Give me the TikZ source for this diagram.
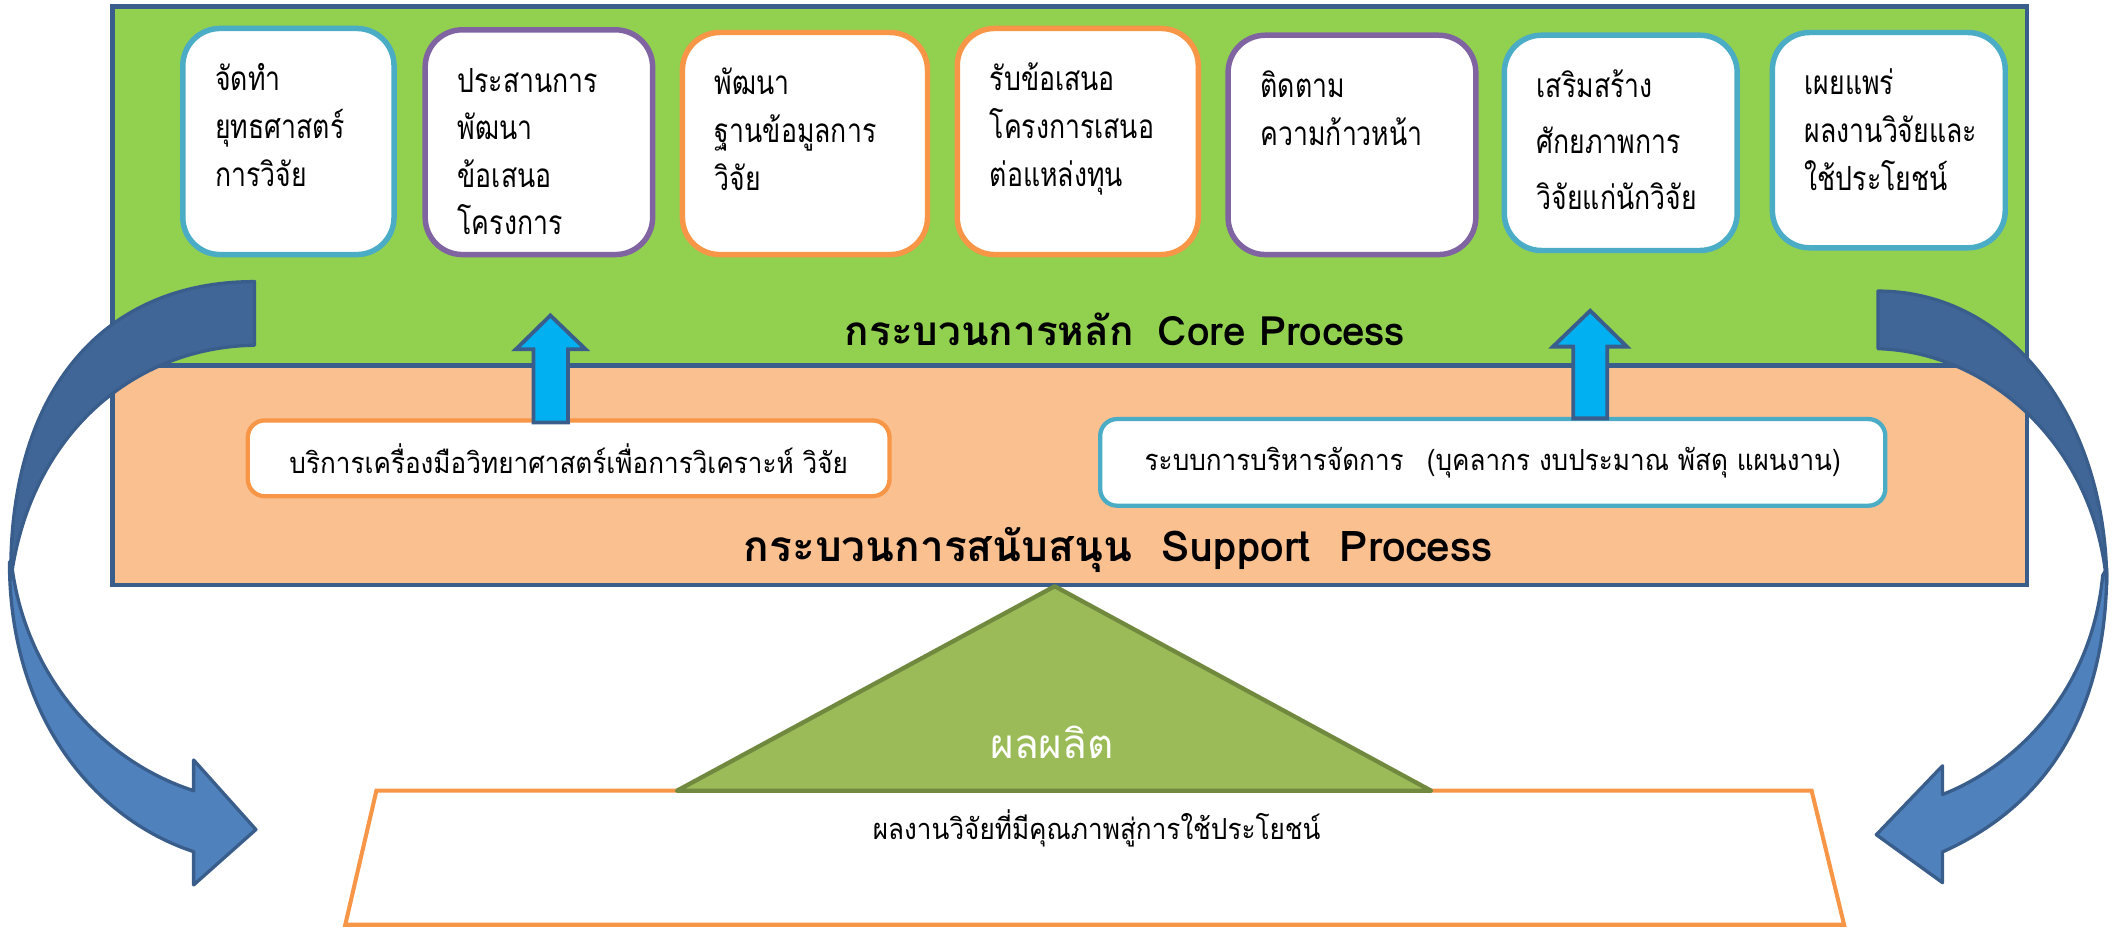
\documentclass[tikz,border=0pt]{standalone}
\usepackage{fontspec}
\setmainfont[Script=Thai]{Loma}
\newfontfamily\narrowthai[Script=Thai, FakeStretch=0.8]{Loma}
\newfontfamily\slimthai[Script=Thai, FakeStretch=0.9]{Loma}

\definecolor{coregreen}{HTML}{92D050}
\definecolor{supportorange}{HTML}{FAC090}
\definecolor{framedark}{HTML}{3A5E8C}
\definecolor{cyanline}{HTML}{4BACC6}
\definecolor{purpleline}{HTML}{8064A2}
\definecolor{orangeline}{HTML}{F79646}
\definecolor{prodgreen}{HTML}{9BBB59}
\definecolor{prodline}{HTML}{71893F}
\definecolor{upblue}{HTML}{00B0F0}
\definecolor{curvedark}{HTML}{406698}
\definecolor{curvelight}{HTML}{4F81BD}

\newlength{\pxu}
\setlength{\pxu}{0.02cm}
\newcommand{\boxfont}{\narrowthai\fontsize{14}{20}\selectfont}
\newcommand{\titlefont}{\fontsize{17}{20}\selectfont\bfseries}
\newcommand{\supfont}{\slimthai\fontsize{12.2}{15}\selectfont}
\newcommand{\procpar}[3]{\parbox[t][\dimexpr#2\pxu-0.86cm\relax][t]{\dimexpr#1\pxu-0.96cm\relax}{\raggedright\strut#3}}

\begin{document}
\begin{tikzpicture}[
          x=0.02cm, y=-0.02cm,
          frame/.style={
            draw=framedark,
            line width=2pt},
          procbox/.style={
            draw=#1,
            fill=white,
            line width=2.3pt,
            rounded corners=0.55cm,
            anchor=north west,
            inner xsep=0.48cm,
            inner ysep=0.43cm,
            font=\boxfont},
          supbox/.style={
            draw=#1,
            fill=white,
            line width=1.8pt,
            rounded corners=0.25cm,
            font=\supfont},
          upblock/.style={
            draw=framedark,
            fill=upblue,
            line width=1.6pt},
          curvedback/.style={
            draw=framedark,
            fill=curvedark,
            line width=1.4pt,
            line join=round},
          curvedfront/.style={
            draw=framedark,
            fill=curvelight,
            line width=1.4pt,
            line join=round},
        ]
          \useasboundingbox (0,0) rectangle (1568,685);
          % core and support bands
          \draw[frame, fill=coregreen] (83,5) rectangle (1497,270);
          \draw[frame, fill=supportorange] (83,270) rectangle (1497,432);

          \node[procbox=cyanline] (strategy) at (133,19) {\procpar{156}{167}{จัดทำ\\ยุทธศาสตร์\\การวิจัย}};
          \node[procbox=purpleline] (proposal) at (312,20) {\procpar{168}{166}{ประสานการ\\พัฒนา\\ข้อเสนอ\\โครงการ}};
          \node[procbox=orangeline] (database) at (502,22) {\procpar{181}{164}{พัฒนา\\ฐานข้อมูลการ\\วิจัย}};
          \node[procbox=orangeline] (funding) at (705,19) {\procpar{178}{167}{รับข้อเสนอ\\โครงการเสนอ\\ต่อแหล่งทุน}};
          \node[procbox=purpleline] (monitor) at (905,24) {\procpar{183}{162}{ติดตาม\\ความก้าวหน้า}};
          \node[procbox=cyanline] (capacity) at (1109,24) {\procpar{172}{159}{\fontsize{14}{23.5}\selectfont เสริมสร้าง\\ศักยภาพการ\\วิจัยแก่นักวิจัย}};
          \node[procbox=cyanline] (publish) at (1307,22) {\procpar{172}{159}{เผยแพร่\\ผลงานวิจัยและ\\ใช้ประโยชน์}};

          \node[font=\titlefont, anchor=base] (coretitle) at (831,255) {กระบวนการหลัก\hspace{0.6em}Core Process};

          \node[supbox=orangeline, minimum width=9.48cm, minimum height=1.12cm] (instrument) at (420,338.5) {บริการเครื่องมือวิทยาศาสตร์เพื่อการวิเคราะห์ วิจัย};
          \node[supbox=cyanline, minimum width=11.6cm, minimum height=1.28cm] (admin) at (1102.5,341.5) {ระบบการบริหารจัดการ\hspace{0.8em}(บุคลากร งบประมาณ พัสดุ แผนงาน)};

          \node[font=\titlefont\fontsize{17.8}{20}\selectfont, anchor=base] (supporttitle) at (826,415) {กระบวนการสนับสนุน\hspace{0.7em}Support\hspace{0.7em}Process};

          % lifts from support to core
          \coordinate (lift1) at (406.5,312);
          \coordinate (lift2) at (1174.5,309);
          \draw[upblock] (lift1) ++(-12.5,0) -- ++(0,-54) -- ++(-13,0) -- ++(25.5,-25) -- ++(26,25) -- ++(-13,0) -- ++(0,54) -- cycle;
          \draw[upblock] (lift2) ++(-12.5,0) -- ++(0,-53) -- ++(-15,0) -- ++(27.5,-26.5) -- ++(27,26.5) -- ++(-14.5,0) -- ++(0,53) -- cycle;

          % output
          \draw[draw=orangeline, fill=white, line width=1.7pt] (278,584) -- (1338,584) -- (1362,683) -- (255,683) -- cycle;
          \node[font=\supfont] (result) at (810,612) {ผลงานวิจัยที่มีคุณภาพสู่การใช้ประโยชน์};
          \coordinate (apex) at (779,433);
          \draw[draw=prodline, fill=prodgreen, line width=1.8pt, line join=round] (apex) -- (1057,584) -- (500,584) -- cycle;
          \node[font=\fontsize{17}{19}\selectfont, text=white] (product) at (777,548) {ผลผลิต};

          % loop arrows
          \draw[curvedfront] (7,415) .. controls (7,530) and (70,605) .. (143,629)
            -- (143,653.6) -- (189,612.7) -- (143,561.3) -- (143,584)
            .. controls (75,562) and (20,500) .. (9,420) -- cycle;
          \draw[curvedback] (188,208) .. controls (75,208) and (6,290) .. (8,428)
            .. controls (22,320) and (100,256) .. (188,255) -- cycle;
          \draw[curvedfront] (1556,420) .. controls (1556,540) and (1500,600) .. (1434.7,629.2)
            -- (1434.7,651.9) -- (1385.8,616.5) -- (1434.7,565.6) -- (1434.7,586.8)
            .. controls (1490,565) and (1545,510) .. (1553,425) -- cycle;
          \draw[curvedback] (1387,215) .. controls (1485,215) and (1556,310) .. (1556,432)
            .. controls (1548,330) and (1470,260) .. (1387,257.5) -- cycle;
        \end{tikzpicture}
\end{document}
